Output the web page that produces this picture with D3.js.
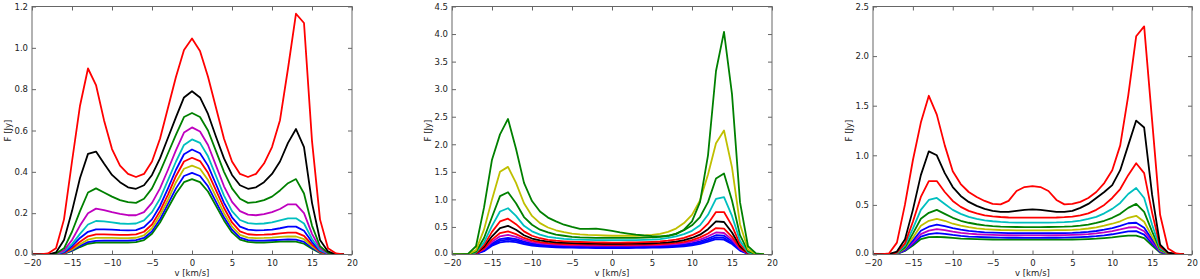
<!DOCTYPE html>
<html>
<head>
<meta charset="utf-8">
<script src="https://cdn.jsdelivr.net/npm/d3@7"></script>
<style>
  body { margin: 0; background: #fff; }
  text { font-family: "DejaVu Sans", sans-serif; fill: #222; }
</style>
</head>
<body>
<svg id="chart" width="1200" height="279"></svg>
<script>
// ---------- DATA ---------- //
// velocity grid, km/s
const velocity = [-20,-19,-18,-17,-16,-15,-14,-13,-12,-11,-10,-9,-8,-7,-6,-5,-4,-3,-2,-1,
                  0,1,2,3,4,5,6,7,8,9,10,11,12,13,14,15,16,17,18,19];

const xTicks = [-20, -15, -10, -5, 0, 5, 10, 15, 20];
const yTicks1 = [0, 0.2, 0.4, 0.6, 0.8, 1.0, 1.2];
const yTicks2 = [0, 0.5, 1.0, 1.5, 2.0, 2.5, 3.0, 3.5, 4.0, 4.5];
const yTicks3 = [0, 0.5, 1.0, 1.5, 2.0, 2.5];

// panel 1 (top to bottom)
const p1Red = [0,0,0.005,0.03,0.17,0.45,0.72,0.90,0.82,0.65,0.51,0.43,0.39,0.375,0.39,0.45,0.56,0.71,0.86,0.99,
               1.045,0.985,0.86,0.71,0.56,0.45,0.39,0.375,0.39,0.44,0.52,0.65,0.90,1.165,1.12,0.55,0.17,0.03,0.005,0];
const p1Black = [0,0,0,0.01,0.07,0.21,0.37,0.487,0.498,0.44,0.385,0.35,0.325,0.318,0.335,0.385,0.465,0.565,0.665,0.76,
                 0.79,0.76,0.68,0.57,0.465,0.385,0.335,0.318,0.325,0.35,0.39,0.45,0.54,0.607,0.52,0.25,0.07,0.015,0,0];
const p1Green = [0,0,0,0.005,0.03,0.11,0.21,0.30,0.32,0.30,0.28,0.263,0.253,0.25,0.27,0.32,0.40,0.49,0.58,0.665,
                 0.685,0.665,0.60,0.50,0.40,0.32,0.27,0.25,0.253,0.263,0.28,0.31,0.345,0.365,0.295,0.14,0.04,0.008,0,0];
const p1Magenta = [0,0,0,0.003,0.02,0.07,0.14,0.20,0.222,0.215,0.205,0.197,0.19,0.19,0.205,0.25,0.32,0.41,0.505,0.59,
                   0.615,0.595,0.53,0.43,0.33,0.255,0.21,0.193,0.19,0.195,0.205,0.22,0.243,0.243,0.20,0.10,0.03,0.005,0,0];
const p1Cyan = [0,0,0,0.002,0.015,0.05,0.10,0.145,0.162,0.16,0.155,0.15,0.148,0.15,0.165,0.205,0.27,0.36,0.45,0.53,
                0.557,0.54,0.475,0.38,0.285,0.21,0.167,0.152,0.148,0.15,0.155,0.165,0.175,0.175,0.15,0.075,0.022,0.004,0,0];
const p1Blue = [0,0,0,0.002,0.01,0.04,0.08,0.11,0.122,0.122,0.12,0.118,0.117,0.118,0.132,0.17,0.235,0.32,0.41,0.485,
                0.508,0.49,0.43,0.34,0.25,0.18,0.135,0.12,0.117,0.118,0.12,0.127,0.135,0.135,0.115,0.06,0.018,0.003,0,0];
const p1Red2 = [0,0,0,0.001,0.008,0.03,0.062,0.088,0.097,0.097,0.096,0.095,0.095,0.097,0.11,0.145,0.21,0.29,0.38,0.45,
                0.468,0.452,0.395,0.31,0.225,0.155,0.112,0.098,0.095,0.096,0.098,0.102,0.106,0.106,0.09,0.048,0.014,0.002,0,0];
const p1Yellow = [0,0,0,0,0.006,0.024,0.05,0.072,0.08,0.08,0.08,0.079,0.079,0.081,0.093,0.127,0.19,0.265,0.35,0.415,
                  0.43,0.415,0.36,0.28,0.20,0.135,0.095,0.082,0.079,0.08,0.082,0.085,0.088,0.087,0.074,0.04,0.012,0.002,0,0];
const p1Blue2 = [0,0,0,0,0.005,0.02,0.042,0.06,0.066,0.067,0.067,0.067,0.067,0.069,0.08,0.112,0.17,0.245,0.32,0.38,
                 0.395,0.38,0.33,0.255,0.18,0.12,0.082,0.07,0.067,0.067,0.069,0.071,0.073,0.072,0.061,0.033,0.01,0.002,0,0];
const p1Green2 = [0,0,0,0,0.004,0.017,0.036,0.052,0.057,0.058,0.058,0.058,0.058,0.06,0.07,0.10,0.155,0.225,0.295,0.35,
                  0.365,0.35,0.305,0.235,0.165,0.107,0.072,0.061,0.058,0.058,0.06,0.062,0.063,0.062,0.052,0.028,0.008,0.001,0,0];

// panel 2
const p2Green = [0,0,0.01,0.15,0.85,1.72,2.18,2.46,1.92,1.30,0.97,0.78,0.67,0.60,0.54,0.50,0.465,0.465,0.47,0.45,
                 0.43,0.40,0.38,0.36,0.345,0.335,0.33,0.34,0.37,0.45,0.60,0.95,1.80,3.33,4.04,2.91,0.95,0.15,0.02,0];
const p2Yellow = [0,0,0.005,0.08,0.45,1.0,1.50,1.59,1.30,0.93,0.70,0.57,0.49,0.44,0.405,0.38,0.365,0.355,0.35,0.345,
                  0.34,0.34,0.34,0.34,0.345,0.355,0.375,0.41,0.47,0.57,0.72,0.98,1.45,2.02,2.25,1.58,0.55,0.09,0.01,0];
const p2Green2 = [0,0,0.003,0.05,0.30,0.68,1.06,1.13,0.93,0.68,0.54,0.45,0.40,0.36,0.34,0.32,0.31,0.305,0.30,0.30,
                  0.30,0.30,0.30,0.30,0.305,0.31,0.32,0.34,0.38,0.44,0.53,0.68,0.95,1.38,1.47,0.98,0.35,0.06,0.005,0];
const p2Cyan = [0,0,0.003,0.04,0.22,0.52,0.78,0.84,0.70,0.52,0.42,0.36,0.32,0.30,0.285,0.275,0.27,0.265,0.26,0.26,
                0.26,0.26,0.26,0.262,0.265,0.27,0.28,0.30,0.33,0.37,0.43,0.53,0.72,1.01,1.04,0.70,0.25,0.04,0.003,0];
const p2Red = [0,0,0.002,0.03,0.17,0.41,0.60,0.65,0.55,0.42,0.34,0.295,0.265,0.25,0.24,0.232,0.227,0.223,0.22,0.218,
               0.217,0.217,0.218,0.22,0.223,0.228,0.236,0.25,0.27,0.30,0.35,0.42,0.56,0.77,0.77,0.52,0.19,0.03,0.002,0];
const p2Black = [0,0,0.002,0.025,0.14,0.33,0.48,0.52,0.45,0.35,0.29,0.255,0.232,0.22,0.212,0.206,0.202,0.199,0.197,0.195,
                 0.195,0.195,0.196,0.198,0.20,0.204,0.21,0.22,0.235,0.26,0.30,0.36,0.46,0.60,0.59,0.40,0.15,0.025,0.002,0];
const p2Red2 = [0,0,0.001,0.02,0.11,0.27,0.39,0.42,0.37,0.30,0.25,0.225,0.207,0.197,0.19,0.186,0.183,0.18,0.178,0.177,
                0.176,0.176,0.177,0.178,0.18,0.183,0.188,0.196,0.21,0.23,0.26,0.31,0.38,0.48,0.47,0.32,0.12,0.02,0.001,0];
const p2Magenta = [0,0,0.001,0.018,0.095,0.23,0.33,0.355,0.32,0.265,0.225,0.20,0.187,0.178,0.172,0.168,0.165,0.163,0.161,0.16,
                   0.16,0.16,0.161,0.162,0.164,0.167,0.171,0.178,0.19,0.207,0.232,0.27,0.33,0.40,0.39,0.27,0.10,0.017,0.001,0];
const p2Blue = [0,0,0.001,0.015,0.08,0.20,0.28,0.30,0.28,0.235,0.20,0.18,0.168,0.16,0.155,0.151,0.148,0.146,0.145,0.144,
                0.144,0.144,0.145,0.146,0.147,0.15,0.154,0.16,0.17,0.185,0.205,0.24,0.29,0.35,0.34,0.24,0.09,0.015,0.001,0];
const p2Blue2 = [0,0,0.001,0.013,0.07,0.18,0.25,0.27,0.25,0.21,0.18,0.163,0.152,0.145,0.14,0.137,0.134,0.132,0.131,0.13,
                 0.13,0.13,0.131,0.132,0.133,0.136,0.14,0.145,0.154,0.167,0.185,0.215,0.26,0.31,0.30,0.21,0.08,0.013,0.001,0];
const p2Blue3 = [0,0,0.001,0.011,0.06,0.16,0.22,0.24,0.225,0.19,0.163,0.148,0.138,0.131,0.127,0.124,0.121,0.119,0.118,0.117,
                 0.117,0.117,0.118,0.119,0.12,0.123,0.127,0.131,0.139,0.15,0.166,0.193,0.235,0.28,0.27,0.19,0.07,0.011,0.001,0];

// panel 3
const p3Red = [0,0,0.01,0.12,0.50,0.95,1.33,1.60,1.41,1.10,0.84,0.71,0.63,0.58,0.54,0.51,0.505,0.54,0.64,0.68,
               0.69,0.68,0.64,0.55,0.505,0.51,0.53,0.57,0.63,0.72,0.85,1.10,1.60,2.20,2.30,1.35,0.40,0.06,0.01,0];
const p3Black = [0,0,0.005,0.03,0.15,0.45,0.80,1.04,1.00,0.82,0.68,0.59,0.53,0.49,0.46,0.44,0.43,0.43,0.44,0.45,
                 0.455,0.45,0.44,0.43,0.43,0.44,0.47,0.51,0.57,0.63,0.70,0.85,1.10,1.35,1.28,0.60,0.10,0.02,0.005,0];
const p3Red2 = [0,0,0.003,0.02,0.11,0.33,0.58,0.74,0.74,0.63,0.54,0.48,0.44,0.415,0.395,0.385,0.378,0.373,0.372,0.372,
                0.372,0.372,0.372,0.373,0.376,0.382,0.395,0.415,0.45,0.50,0.57,0.66,0.80,0.92,0.82,0.42,0.08,0.015,0.003,0];
const p3Cyan = [0,0,0.002,0.015,0.09,0.26,0.45,0.55,0.57,0.51,0.45,0.41,0.38,0.36,0.345,0.335,0.328,0.324,0.322,0.321,
                0.321,0.321,0.322,0.323,0.326,0.332,0.342,0.358,0.38,0.415,0.46,0.52,0.61,0.67,0.57,0.30,0.06,0.012,0.002,0];
const p3Green = [0,0,0.002,0.012,0.07,0.21,0.36,0.42,0.45,0.41,0.37,0.34,0.32,0.305,0.294,0.287,0.282,0.279,0.277,0.276,
                 0.276,0.276,0.277,0.278,0.28,0.284,0.291,0.302,0.318,0.34,0.37,0.41,0.47,0.51,0.43,0.23,0.05,0.01,0.002,0];
const p3Yellow = [0,0,0.001,0.01,0.06,0.17,0.29,0.34,0.36,0.34,0.31,0.29,0.275,0.264,0.256,0.251,0.247,0.245,0.244,0.243,
                  0.243,0.243,0.244,0.245,0.246,0.249,0.254,0.262,0.274,0.29,0.31,0.335,0.37,0.39,0.33,0.18,0.04,0.008,0.001,0];
const p3Blue = [0,0,0.001,0.008,0.05,0.14,0.24,0.28,0.30,0.285,0.265,0.25,0.238,0.23,0.224,0.22,0.217,0.215,0.214,0.214,
                0.214,0.214,0.214,0.215,0.216,0.218,0.222,0.228,0.237,0.25,0.267,0.288,0.315,0.32,0.27,0.15,0.035,0.007,0.001,0];
const p3Magenta = [0,0,0.001,0.007,0.045,0.12,0.205,0.24,0.255,0.245,0.23,0.219,0.21,0.204,0.2,0.197,0.195,0.194,0.193,0.193,
                   0.193,0.193,0.193,0.194,0.195,0.197,0.2,0.205,0.212,0.222,0.236,0.253,0.272,0.275,0.235,0.13,0.03,0.006,0.001,0];
const p3Blue2 = [0,0,0.001,0.006,0.04,0.105,0.18,0.205,0.215,0.208,0.197,0.188,0.181,0.177,0.174,0.172,0.17,0.169,0.169,0.168,
                 0.168,0.168,0.169,0.169,0.17,0.172,0.175,0.179,0.185,0.193,0.204,0.218,0.233,0.235,0.2,0.11,0.026,0.005,0.001,0];
const p3Green2 = [0,0,0.001,0.005,0.035,0.09,0.155,0.175,0.178,0.174,0.167,0.161,0.157,0.154,0.152,0.151,0.15,0.149,0.149,0.149,
                  0.149,0.149,0.149,0.149,0.15,0.151,0.153,0.156,0.16,0.166,0.173,0.182,0.19,0.19,0.165,0.09,0.02,0.004,0.001,0];

// ---------- COLOURS (matplotlib classic) ---------- //
const C = {b: '#0000ff', g: '#008000', r: '#ff0000', c: '#00bfbf', m: '#bf00bf', y: '#bfbf00', k: '#000000'};

const panels = [
  {left: 32, right: 352, yMax: 1.2, yTicks: yTicks1, fmt: '.1f',
   series: [[p1Green2, C.g], [p1Blue2, C.b], [p1Yellow, C.y], [p1Red2, C.r], [p1Blue, C.b],
            [p1Cyan, C.c], [p1Magenta, C.m], [p1Green, C.g], [p1Black, C.k], [p1Red, C.r]]},
  {left: 452, right: 772, yMax: 4.5, yTicks: yTicks2, fmt: '.1f',
   series: [[p2Blue3, C.b], [p2Blue2, C.b], [p2Blue, C.b], [p2Magenta, C.m], [p2Red2, C.r], [p2Black, C.k],
            [p2Red, C.r], [p2Cyan, C.c], [p2Green2, C.g], [p2Yellow, C.y], [p2Green, C.g]]},
  {left: 873, right: 1192, yMax: 2.5, yTicks: yTicks3, fmt: '.1f',
   series: [[p3Green2, C.g], [p3Blue2, C.b], [p3Magenta, C.m], [p3Blue, C.b], [p3Yellow, C.y], [p3Green, C.g],
            [p3Cyan, C.c], [p3Red2, C.r], [p3Black, C.k], [p3Red, C.r]]}
];

// ---------- RENDER ---------- //
const svg = d3.select('#chart');
const yTop = 6.5, yBottom = 254.5;
const frameColor = '#666';
const fontSize = 8.5;
const minus = s => s.replace('-', '\u2212');

panels.forEach(p => {
  const x = d3.scaleLinear().domain([-20, 20]).range([p.left, p.right]);
  const y = d3.scaleLinear().domain([0, p.yMax]).range([yBottom, yTop]);
  const g = svg.append('g');

  // clip to axes box
  const clipId = 'clip' + p.left;
  g.append('clipPath').attr('id', clipId).append('rect')
    .attr('x', p.left).attr('y', yTop).attr('width', p.right - p.left).attr('height', yBottom - yTop);

  const line = d3.line().x((d, i) => x(velocity[i])).y(d => y(d));

  g.append('g').attr('clip-path', 'url(#' + clipId + ')')
    .selectAll('path')
    .data(p.series)
    .enter()
    .append('path')
    .attr('d', d => line(d[0]))
    .attr('fill', 'none')
    .attr('stroke', d => d[1])
    .attr('stroke-width', 1.8)
    .attr('stroke-linejoin', 'round');

  // axes (ticks inward, on all sides)
  const fmt = d3.format(p.fmt);
  g.append('g').attr('transform', 'translate(0,' + yBottom + ')')
    .call(d3.axisBottom(x).tickValues(xTicks).tickSizeInner(-4).tickSizeOuter(0).tickPadding(5)
      .tickFormat(d => minus(String(d))));
  g.append('g').attr('transform', 'translate(0,' + yTop + ')')
    .call(d3.axisTop(x).tickValues(xTicks).tickSizeInner(-4).tickSizeOuter(0).tickFormat(''));
  const yAxisG = g.append('g').attr('transform', 'translate(' + p.left + ',0)')
    .call(d3.axisLeft(y).tickValues(p.yTicks).tickSizeInner(-4).tickSizeOuter(0).tickPadding(4)
      .tickFormat(d => fmt(d)));
  g.append('g').attr('transform', 'translate(' + p.right + ',0)')
    .call(d3.axisRight(y).tickValues(p.yTicks).tickSizeInner(-4).tickSizeOuter(0).tickFormat(''));

  g.selectAll('.domain').remove();
  g.selectAll('.tick line').attr('stroke', frameColor);
  g.selectAll('.tick text').style('font-size', fontSize + 'px').attr('fill', '#222');
  // lift the 0.0 label a touch so it clears the x tick labels
  yAxisG.selectAll('.tick').filter(d => d === 0).select('text').attr('dy', '0.12em');

  g.append('rect')
    .attr('x', p.left).attr('y', yTop)
    .attr('width', p.right - p.left).attr('height', yBottom - yTop)
    .attr('fill', 'none').attr('stroke', frameColor).attr('stroke-width', 1);

  // axis labels
  g.append('text')
    .attr('x', (p.left + p.right) / 2).attr('y', 275.5)
    .attr('text-anchor', 'middle').style('font-size', fontSize + 'px')
    .text('v [km/s]');
  g.append('text')
    .attr('transform', 'translate(' + (p.left - 21) + ',' + ((yTop + yBottom) / 2) + ') rotate(-90)')
    .attr('text-anchor', 'middle').style('font-size', fontSize + 'px')
    .text('F [Jy]');
});
</script>
</body>
</html>
